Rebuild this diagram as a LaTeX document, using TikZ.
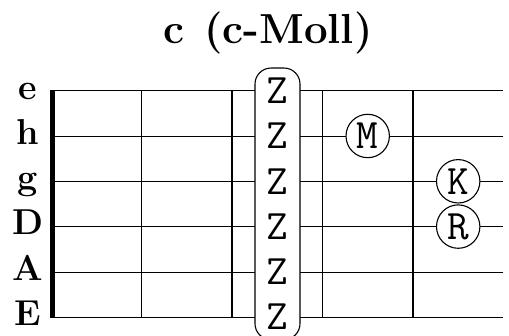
\documentclass[tikz,border=0pt]{standalone}
\usepackage{fontspec}
\tikzset{
  strline/.style={line width=0.9pt},
  fretline/.style={line width=1.4pt},
  nutline/.style={line width=5pt},
  lbl/.style={font=\fontsize{36}{40}\selectfont\bfseries, anchor=base, inner sep=0pt},
  zbox/.style={draw, fill=white, line width=1.1pt, rounded corners=16pt, minimum width=45pt, minimum height=271.6pt, inner sep=0pt},
  ztext/.style={font=\fontsize{42}{46}\selectfont\ttfamily, inner sep=0pt},
  fing/.style={draw, circle, fill=white, line width=1.1pt, minimum size=43.4pt, inner sep=0pt, font=\fontsize{42}{46}\selectfont\ttfamily},
  ttl/.style={font=\fontsize{42}{46}\selectfont\bfseries, anchor=base west, inner sep=0pt}
}
\begin{document}
\begin{tikzpicture}[x=1pt,y=1pt]
\useasboundingbox (0,0) rectangle (509,336);
\node[ttl] (title) at (163,292.7) {c\hspace{20pt}(c-Moll)};
% strings
\foreach \n/\y/\l in {1/245.3/e,2/200/h,3/154.7/g,4/109.4/D,5/64/A,6/19/E}{
  \coordinate (s\n a) at (52.5,\y);
  \coordinate (s\n b) at (503,\y);
  \draw[strline] (s\n a) -- (s\n b);
  \node[lbl] (l\n) at (28,\y-8.4) {\l};
}
% frets
\foreach \f/\x in {1/141.5,2/232,3/322.5,4/413}{
  \coordinate (f\f t) at (\x,245.3);
  \coordinate (f\f b) at (\x,19);
  \draw[fretline] (f\f t) -- (f\f b);
}
\coordinate (nt) at (52.5,246);
\coordinate (nb) at (52.5,18.3);
\draw[nutline] (nt) -- (nb);
% barre
\node[zbox] (barre) at (277.5,132.15) {};
\foreach \n/\y in {1/245.3,2/200,3/154.7,4/109.4,5/64,6/19}{
  \node[ztext] (z\n) at (277.5,\y) {Z};
}
\node[fing] (m) at (367.7,200) {M};
\node[fing] (k) at (458.2,154.7) {K};
\node[fing] (r) at (458.2,109.4) {R};
\end{tikzpicture}
\end{document}
